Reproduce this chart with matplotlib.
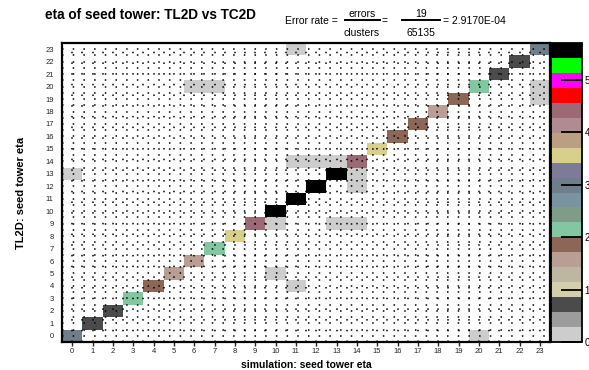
import numpy as np
import matplotlib
matplotlib.use("Agg")
import matplotlib.pyplot as plt
from matplotlib.colors import ListedColormap, Normalize

plt.rcParams['font.family'] = ['Liberation Sans', 'DejaVu Sans']

# ---- data -------------------------------------------------------------
n_bins = 24
tower_labels = [str(i) for i in range(n_bins)]

# log10(entries) on the diagonal, simulation bin i -> TL2D bin i
diag_level = [3.0, 0.7, 0.7, 2.1, 1.85, 1.55, 1.55, 2.1, 3.6, 4.45,
              5.6, 5.6, 5.6, 5.6, 4.45, 3.6, 1.85, 1.85, 1.55, 1.85,
              2.1, 0.7, 0.7, 3.0]

# off-diagonal (mismatched) cells: simulation eta, TL2D eta, log10(entries)
off_sim = [11, 23, 23, 6, 7, 11, 12, 13, 0, 14, 14, 10, 13, 14, 10, 11, 20]
off_tl2d = [23, 20, 19, 20, 20, 14, 14, 14, 13, 13, 12, 9, 9, 9, 5, 4, 0]
off_level = [0.1] * len(off_sim)

z_max = 5.7
cbar_ticks = [0, 1, 2, 3, 4, 5]

n_errors = 19
n_clusters = 65135

palette = ['#cdcdcd', '#9c9c9c', '#4b4b4b', '#d5ceac', '#bdb6a0',
           '#b99e96', '#8c6656', '#82c7a2', '#7f9c89', '#7a93a0',
           '#6e7e8b', '#7e7b99', '#d6d08a', '#bb9f84', '#b08b8f',
           '#9c6a75', '#ff0000', '#ff00ff', '#00ff00', '#000000']

# ---- histogram grid ---------------------------------------------------
H = np.full((n_bins, n_bins), np.nan)
for i, v in enumerate(diag_level):
    H[i, i] = v
for sx, ty, v in zip(off_sim, off_tl2d, off_level):
    H[ty, sx] = v
H = np.ma.masked_invalid(H)

fig = plt.figure(figsize=(5.89, 3.70), dpi=100)
W, Hpx = 589, 370
ax = fig.add_axes([62 / W, 1 - 342 / Hpx, (550 - 62) / W, (342 - 43) / Hpx])

cmap = ListedColormap(palette)
norm = Normalize(vmin=0, vmax=z_max)
edges = np.arange(n_bins + 1) - 0.5
mesh = ax.pcolormesh(edges, edges, H, cmap=cmap, norm=norm,
                     edgecolors='none')

ax.set_xlim(-0.5, n_bins - 0.5)
ax.set_ylim(-0.5, n_bins - 0.5)
ax.set_xticks(range(n_bins))
ax.set_xticklabels(tower_labels)
ax.set_yticks(range(n_bins))
ax.set_yticklabels(tower_labels)
ax.set_xticks(edges, minor=True)
ax.set_yticks(edges, minor=True)

ax.set_axisbelow(False)
ax.grid(which='both', color='black', linestyle=(0, (1, 6)), linewidth=1.1)

ax.tick_params(axis='x', which='major', labelsize=5.5, length=3, width=1,
               direction='out', pad=1, colors='#222222')
ax.tick_params(axis='y', which='major', labelsize=5.5, length=0, pad=6,
               colors='#222222')
ax.tick_params(which='minor', length=0)
for s in ax.spines.values():
    s.set_linewidth(1.6)

ax.set_xlabel('simulation: seed tower eta', fontsize=7.5, fontweight='bold',
              labelpad=4)
ax.set_ylabel('TL2D: seed tower eta', fontsize=8, fontweight='bold',
              labelpad=14)

# ---- colour scale -----------------------------------------------------
cax = fig.add_axes([551 / W, 1 - 342 / Hpx, 31 / W, (342 - 43) / Hpx])
cb = fig.colorbar(mesh, cax=cax)
cb.set_ticks(cbar_ticks)
cb.set_ticklabels([str(t) for t in cbar_ticks])
cb.outline.set_linewidth(1.3)
cax.tick_params(axis='y', direction='in', length=15, width=1.3,
                labelsize=7, pad=2)

# ---- titles -----------------------------------------------------------
fig.text(45 / W, 1 - 15 / Hpx, 'eta of seed tower: TL2D vs TC2D',
         fontsize=9.8, fontweight='bold', ha='left', va='center')

y_mid = 1 - 21 / Hpx
y_num = 1 - 14 / Hpx
y_den = 1 - 33 / Hpx
fs = 7.5
fig.text(338 / W, y_mid, 'Error rate =', fontsize=fs, ha='right', va='center')
fig.text(362 / W, y_num, 'errors', fontsize=fs, ha='center', va='center')
fig.text(362 / W, y_den, 'clusters', fontsize=fs, ha='center', va='center')
fig.text(385 / W, y_mid, '=', fontsize=fs, ha='center', va='center')
fig.text(421 / W, y_num, str(n_errors), fontsize=fs, ha='center', va='center')
fig.text(421 / W, y_den, str(n_clusters), fontsize=fs, ha='center', va='center')
fig.text(443 / W, y_mid, '= %.4E' % (n_errors / n_clusters), fontsize=fs,
         ha='left', va='center')
for x0, x1 in [(345, 380), (402, 440)]:
    fig.add_artist(plt.Line2D([x0 / W, x1 / W], [1 - 20 / Hpx, 1 - 20 / Hpx],
                              color='black', linewidth=1.4,
                              transform=fig.transFigure))

fig.savefig('out.png', dpi=100)
